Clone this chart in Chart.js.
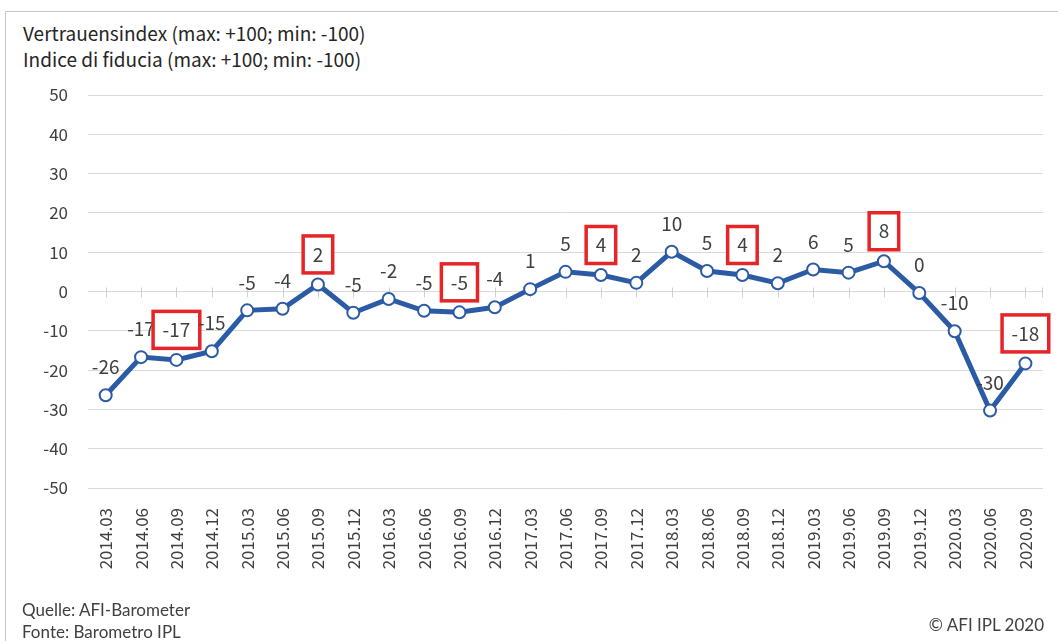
<!DOCTYPE html>
<html>
<head>
<meta charset="utf-8">
<script src="https://cdn.jsdelivr.net/npm/chart.js@4.4.1/dist/chart.umd.min.js"></script>
<style>
body{margin:0;background:#fff;font-family:"Noto Sans CJK JP","Noto Sans",sans-serif;}
#frame{position:absolute;left:5px;top:11px;width:1060px;height:640px;border-top:1px solid #c6c6c6;border-left:1px solid #c6c6c6;}
#wrap{position:absolute;left:0;top:0;width:1058px;height:641px;}
.t{position:absolute;color:#262626;white-space:nowrap;font-size:19px;line-height:26px;}
.f{position:absolute;color:#404040;white-space:nowrap;font-family:Lato,sans-serif;font-size:17px;line-height:22px;}
</style>
</head>
<body>
<div id="frame"></div>
<div class="t" style="left:23px;top:20px;">Vertrauensindex (max: +100; min: -100)<br>Indice di fiducia (max: +100; min: -100)</div>
<div id="wrap"><canvas id="trustChart"></canvas></div>
<div class="f" style="left:22px;top:599px;">Quelle: AFI-Barometer<br>Fonte: Barometro IPL</div>
<div class="f" style="right:14px;top:614px;">© AFI IPL 2020</div>
<script>
// quarterly survey dates
const categories = ['2014.03','2014.06','2014.09','2014.12','2015.03','2015.06','2015.09','2015.12',
  '2016.03','2016.06','2016.09','2016.12','2017.03','2017.06','2017.09','2017.12',
  '2018.03','2018.06','2018.09','2018.12','2019.03','2019.06','2019.09','2019.12',
  '2020.03','2020.06','2020.09'];

// confidence index
const indexValues = [-26.4,-16.7,-17.4,-15.2,-4.8,-4.4,1.8,-5.4,
  -1.9,-4.9,-5.3,-4.0,0.6,5.0,4.2,2.2,
  10.1,5.2,4.2,2.1,5.6,4.8,7.7,-0.4,
  -10.1,-30.3,-18.3];

// september values are highlighted with a red box
const boxedCategories = ['2014.09','2015.09','2016.09','2017.09','2018.09','2019.09','2020.09'];

const yMin = -50, yMax = 50, yStep = 10;

const blue = '#2c5ba6';
const red = '#e52528';
const textColor = '#404040';
const chartFont = '"Noto Sans CJK JP", "Noto Sans", sans-serif';

// the category axis crosses at 0 with little tick marks
const zeroAxis = {
  id: 'zeroAxis',
  beforeDatasetsDraw(chart){
    const ctx = chart.ctx, x = chart.scales.x, y = chart.scales.y;
    const y0 = Math.round(y.getPixelForValue(0)) + 0.5;
    ctx.save();
    ctx.strokeStyle = '#d0d0d0';
    ctx.lineWidth = 1;
    ctx.beginPath();
    categories.forEach((c, i) => {
      const px = Math.round(x.getPixelForValue(i)) + 0.5;
      ctx.moveTo(px, y0 - 5);
      ctx.lineTo(px, y0 + 5);
    });
    const right = Math.round(chart.chartArea.right) - 0.5;
    ctx.moveTo(right, y0 - 5);
    ctx.lineTo(right, y0 + 5);
    ctx.stroke();
    ctx.restore();
  }
};

const valueLabels = {
  id: 'valueLabels',
  afterDatasetsDraw(chart){
    const ctx = chart.ctx;
    const meta = chart.getDatasetMeta(0);
    ctx.save();
    ctx.font = '19px ' + chartFont;
    ctx.textAlign = 'center';
    ctx.textBaseline = 'middle';
    meta.data.forEach((pt, i) => {
      const txt = String(Math.round(indexValues[i]));
      if (boxedCategories.includes(categories[i])) {
        const w = ctx.measureText(txt).width + 19, h = 37;
        const cy = pt.y - 30;
        ctx.fillStyle = '#fff';
        ctx.fillRect(pt.x - w / 2, cy - h / 2, w, h);
        ctx.strokeStyle = red;
        ctx.lineWidth = 3.5;
        ctx.strokeRect(pt.x - w / 2, cy - h / 2, w, h);
        ctx.fillStyle = textColor;
        ctx.fillText(txt, pt.x, cy);
      } else {
        ctx.fillStyle = textColor;
        ctx.fillText(txt, pt.x, pt.y - 28);
      }
    });
    ctx.restore();
  }
};

new Chart(document.getElementById('trustChart'), {
  type: 'line',
  data: {
    labels: categories,
    datasets: [{
      data: indexValues,
      borderColor: blue,
      borderWidth: 5,
      pointRadius: 6,
      pointBorderWidth: 2,
      pointBackgroundColor: '#fff',
      pointBorderColor: blue,
      tension: 0,
      clip: false
    }]
  },
  options: {
    responsive: true,
    maintainAspectRatio: false,
    animation: false,
    layout: { padding: { top: 95, left: 0, right: 10, bottom: 0 } },
    plugins: {
      legend: { display: false },
      tooltip: { enabled: false }
    },
    scales: {
      x: {
        offset: true,
        grid: { display: false },
        border: { display: false },
        afterFit: s => { s.height = 153; },
        ticks: {
          autoSkip: false,
          minRotation: 90,
          maxRotation: 90,
          padding: 12,
          color: textColor,
          font: { family: chartFont, size: 17 }
        }
      },
      y: {
        min: yMin,
        max: yMax,
        afterFit: s => { s.width = 88; },
        grid: { color: '#d9d9d9', drawTicks: false },
        border: { display: false },
        ticks: {
          stepSize: yStep,
          padding: 20,
          color: textColor,
          font: { family: chartFont, size: 17 }
        }
      }
    }
  },
  plugins: [zeroAxis, valueLabels]
});
</script>
</body>
</html>
